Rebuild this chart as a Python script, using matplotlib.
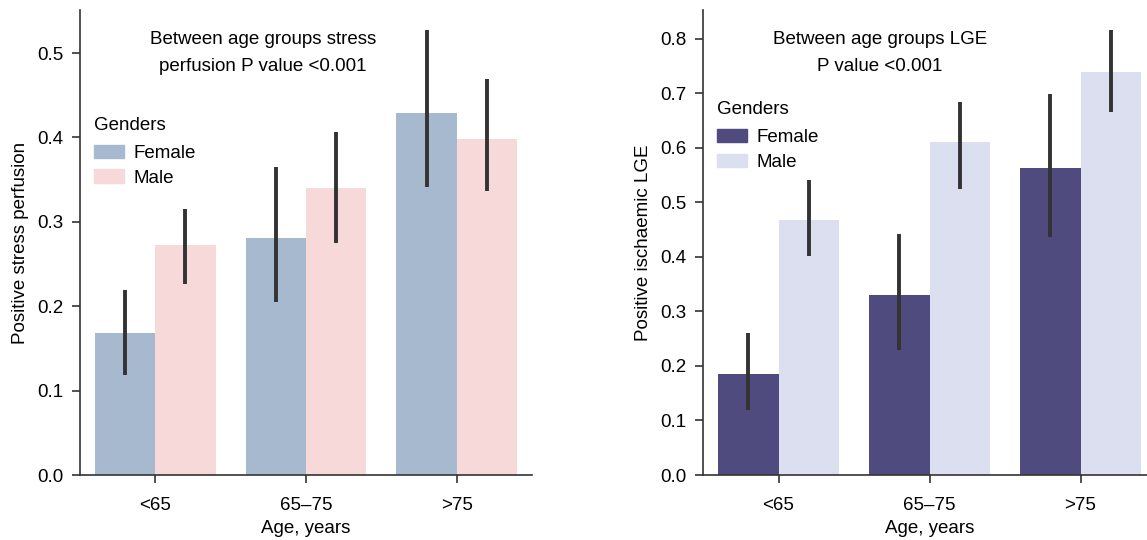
import numpy as np
import matplotlib
matplotlib.use("Agg")
import matplotlib.pyplot as plt
from matplotlib.patches import Patch

plt.rcParams['font.family'] = ['Liberation Sans', 'DejaVu Sans']
plt.rcParams['font.size'] = 13.5

ages = ['<65', '65\u201375', '>75']
genders = ['Female', 'Male']

# left panel: stress perfusion
perf_female = [0.168, 0.281, 0.429]
perf_male = [0.272, 0.340, 0.398]
perf_female_ci = [(0.118, 0.219), (0.205, 0.365), (0.341, 0.527)]
perf_male_ci = [(0.226, 0.315), (0.275, 0.407), (0.336, 0.469)]

# right panel: ischaemic LGE
lge_female = [0.185, 0.331, 0.563]
lge_male = [0.467, 0.610, 0.739]
lge_female_ci = [(0.120, 0.260), (0.230, 0.443), (0.436, 0.698)]
lge_male_ci = [(0.402, 0.541), (0.524, 0.685), (0.665, 0.816)]


def draw_panel(ax, female, male, female_ci, male_ci, colors, ylabel, note,
               note_x, ymax, yticks, leg_y):
    x = np.arange(len(ages))
    w = 0.4
    for offset, vals, cis, col in [(-w / 2, female, female_ci, colors[0]),
                                   (w / 2, male, male_ci, colors[1])]:
        ax.bar(x + offset, vals, width=w, color=col, edgecolor='none')
        for xi, (lo, hi) in zip(x + offset, cis):
            ax.plot([xi, xi], [lo, hi], color='#333333', lw=2.8, solid_capstyle='butt')
    ax.set_xlim(-0.5, 2.5)
    ax.set_ylim(0, ymax)
    ax.set_yticks(yticks)
    ax.set_yticklabels(['%.1f' % t for t in yticks])
    ax.set_xticks(x)
    ax.set_xticklabels(ages)
    ax.set_xlabel('Age, years', fontsize=13.5, labelpad=5)
    ax.set_ylabel(ylabel, fontsize=13.5, labelpad=6)
    for s in ['top', 'right']:
        ax.spines[s].set_visible(False)
    for s in ['left', 'bottom']:
        ax.spines[s].set_color('#333333')
        ax.spines[s].set_linewidth(1.2)
    ax.tick_params(axis='both', length=6, width=1.2, color='#333333', labelsize=13.5, pad=6)
    ax.tick_params(axis='x', pad=9.5)
    ax.text(note_x, 0.907, note, transform=ax.transAxes, ha='center', va='center',
            fontsize=13.5, linespacing=1.8)
    handles = [Patch(color=colors[0]), Patch(color=colors[1])]
    leg = ax.legend(handles, genders, title='Genders', loc='upper left',
                    bbox_to_anchor=(-0.007, leg_y), frameon=False, fontsize=13.5,
                    title_fontsize=13.5, handlelength=1.6, handleheight=0.75,
                    handletextpad=0.5, labelspacing=0.4)
    leg._legend_box.align = 'left'
    leg._legend_box.sep = 7.5


fig = plt.figure(figsize=(11.47, 5.4), dpi=100)
ax1 = fig.add_axes([80 / 1147, 65 / 540, 452 / 1147, 465 / 540])
ax2 = fig.add_axes([703 / 1147, 65 / 540, 453 / 1147, 465 / 540])

draw_panel(ax1, perf_female, perf_male, perf_female_ci, perf_male_ci,
           ['#a7b9cf', '#f7d9d9'], 'Positive stress perfusion',
           'Between age groups stress\nperfusion P value <0.001', 0.405, 0.551,
           [0.0, 0.1, 0.2, 0.3, 0.4, 0.5], 0.806)
draw_panel(ax2, lge_female, lge_male, lge_female_ci, lge_male_ci,
           ['#4f4b7e', '#dcdff0'], 'Positive ischaemic LGE',
           'Between age groups LGE\nP value <0.001', 0.39, 0.853,
           [0.0, 0.1, 0.2, 0.3, 0.4, 0.5, 0.6, 0.7, 0.8], 0.84)

fig.savefig('out.png', dpi=100)
